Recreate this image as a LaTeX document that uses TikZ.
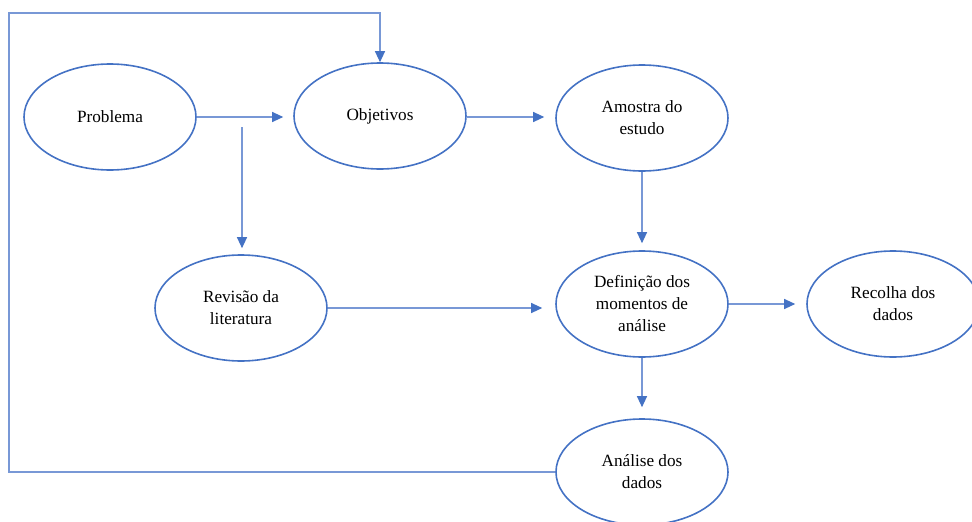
\documentclass[tikz,border=0pt]{standalone}
\usepackage{fontspec}
\setmainfont{Liberation Serif}
\usetikzlibrary{shapes.geometric,arrows.meta}
\definecolor{ellblue}{RGB}{68,114,196}
\definecolor{lineblue}{RGB}{120,152,214}
\tikzset{
  oval/.style={ellipse, draw=ellblue, line width=1.6pt, minimum width=172pt, minimum height=106pt, inner sep=0pt,
    align=center, font=\fontsize{17.2}{22}\selectfont, text=black},
  conn/.style={draw=lineblue, line width=1.1pt, -{Triangle[length=11pt,width=10pt,fill=ellblue,color=ellblue]}}
}
\begin{document}
\begin{tikzpicture}[x=1pt,y=-1pt]
\useasboundingbox (0,0) rectangle (972,522);
\begin{scope}
\clip (0,0) rectangle (972,522);
\node[oval] (prob) at (110,117) {Problema};
\node[oval] (obj) at (380,116) {Objetivos};
\node[oval] (amo) at (642,118) {Amostra do\\estudo};
\node[oval] (rev) at (241,308) {Revisão da\\literatura};
\node[oval] (def) at (642,304) {Definição dos\\momentos de\\análise};
\node[oval] (rec) at (893,304) {Recolha dos\\dados};
\node[oval] (ana) at (642,472) {Análise dos\\dados};
\end{scope}
\coordinate (pv) at (242,127);
\coordinate (c1) at (9,13);
\draw[conn, shorten >=10pt] (prob.east |- 0,117) -- (obj.west |- 0,117);
\draw[conn, shorten >=6pt] (pv) -- (pv |- rev.north);
\draw[conn, shorten >=11pt] (obj.east |- 0,117) -- (amo.west |- 0,117);
\draw[conn, shorten >=7pt] (amo.south) -- (def.north);
\draw[conn, shorten >=13pt] (rev.east |- 0,308) -- (def.west |- 0,308);
\draw[conn, shorten >=11pt] (def.east) -- (rec.west);
\draw[conn, shorten >=11pt] (def.south) -- (ana.north);
\draw[conn] (ana.west) -| (c1) -| (obj.north);
\end{tikzpicture}
\end{document}
